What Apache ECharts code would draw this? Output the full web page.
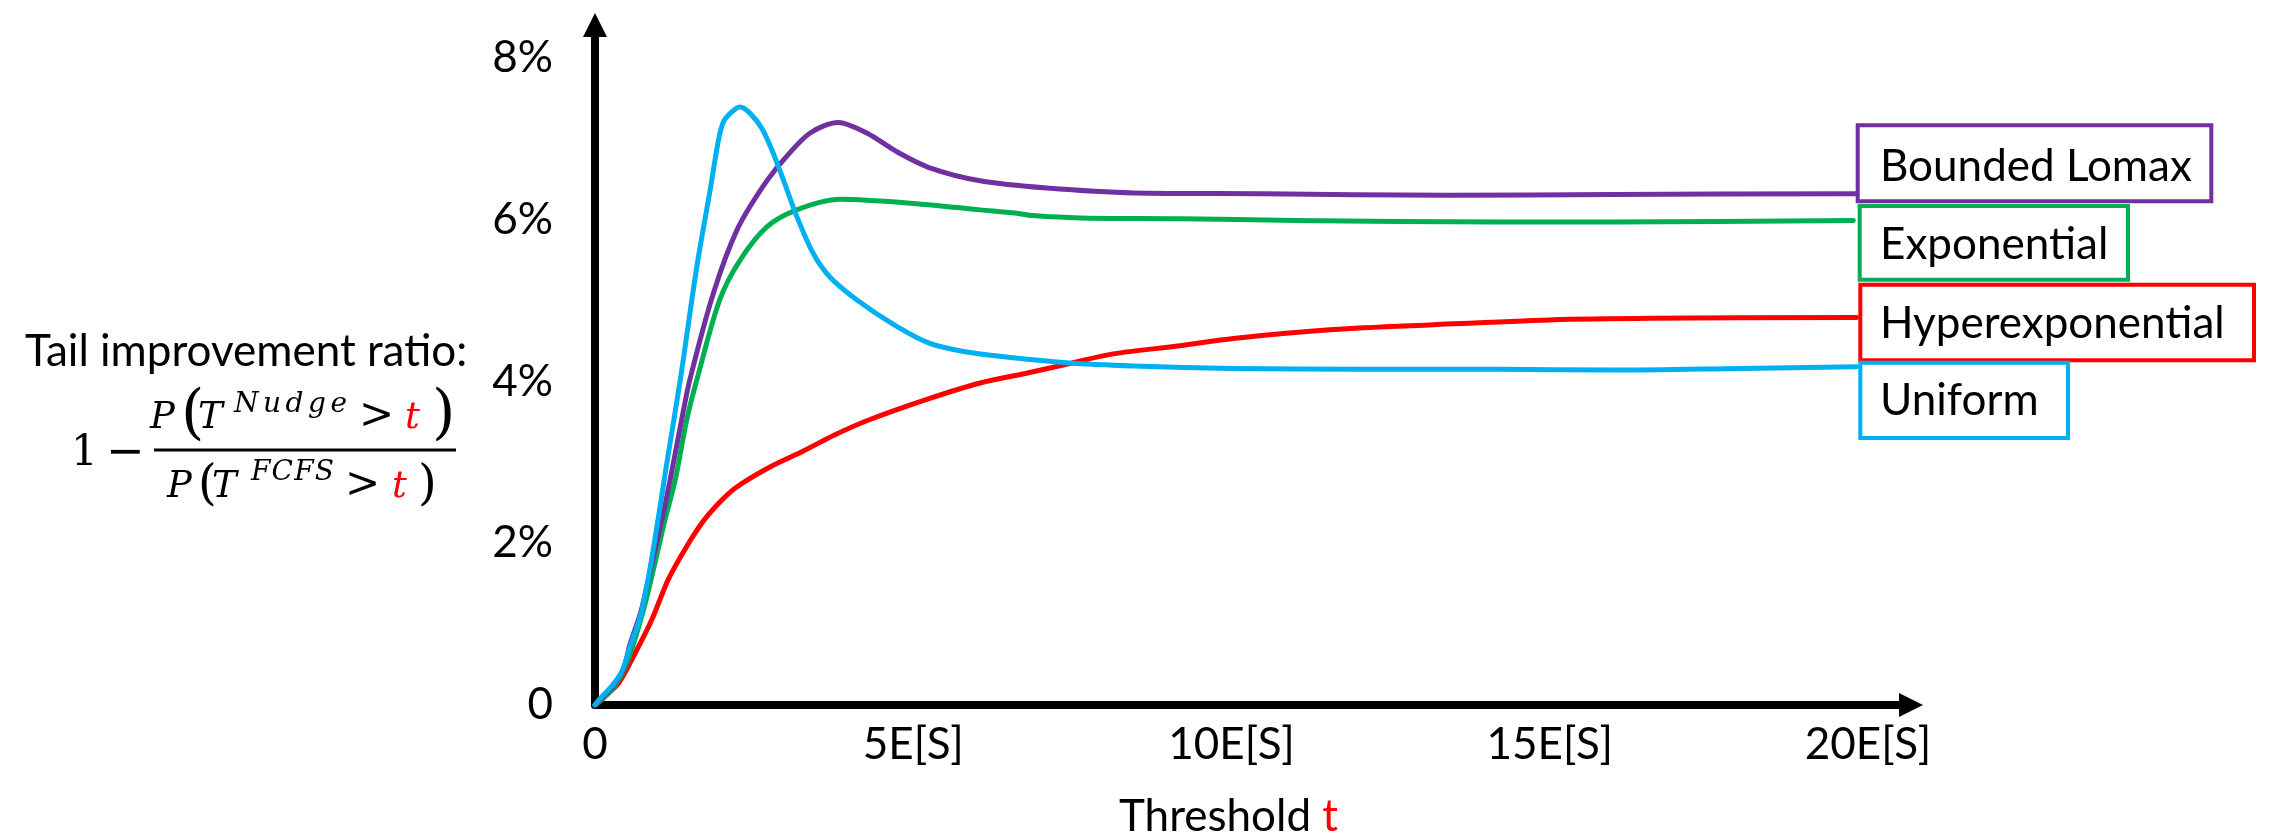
<!DOCTYPE html>
<html>
<head>
<meta charset="utf-8">
<script src="https://cdn.jsdelivr.net/npm/echarts@6/dist/echarts.min.js"></script>
<style>html,body{margin:0;padding:0;background:#fff}#c{width:2270px;height:839px}</style>
</head>
<body>
<div id="c"></div>
<script>
// ---------- data (x in multiples of E[S], y in %) ----------
const xTicks = [0, 5, 10, 15, 20];
const xTickLabels = ['0', '5E[S]', '10E[S]', '15E[S]', '20E[S]'];
const yTicks = [0, 2, 4, 6, 8];
const yTickLabels = ['0', '2%', '4%', '6%', '8%'];
const seriesNames = ['Bounded Lomax', 'Exponential', 'Hyperexponential', 'Uniform'];
const seriesColors = ['#7030A0', '#00B050', '#FF0000', '#00B0F0'];

const lomaxT = [0, 0.1, 0.3, 0.45, 0.55, 0.72, 0.88, 1.05, 1.18, 1.36, 1.49, 1.86, 2.23, 2.64, 3.01, 3.38, 3.82, 4.27, 4.74, 5.26, 6.05, 7.1, 8.46, 10.5, 13.4, 16, 19.82];
const lomaxY = [0, 0.08, 0.25, 0.45, 0.75, 1.15, 1.7, 2.29, 2.78, 3.52, 4.02, 5.09, 5.87, 6.41, 6.78, 7.07, 7.2, 7.07, 6.84, 6.64, 6.48, 6.39, 6.33, 6.32, 6.3, 6.31, 6.32];

const expT = [0, 0.1, 0.3, 0.52, 0.79, 1.1, 1.26, 1.44, 1.6, 1.96, 2.28, 2.7, 3.17, 3.85, 5.0, 6.05, 6.6, 6.88, 7.62, 9.19, 11, 14.2, 16, 19.77];
const expY = [0, 0.06, 0.22, 0.56, 1.26, 2.29, 2.78, 3.52, 4.02, 5.01, 5.5, 5.91, 6.12, 6.25, 6.2, 6.12, 6.08, 6.05, 6.02, 6.01, 5.99, 5.97, 5.97, 5.99];

const hyperT = [0, 0.08, 0.37, 0.63, 0.89, 1.15, 1.41, 1.68, 1.94, 2.2, 2.72, 3.25, 3.77, 4.29, 5.26, 6.05, 6.83, 7.46, 8.14, 9.19, 10.03, 11.6, 13.17, 15.0, 16.58, 19.82];
const hyperY = [0, 0.06, 0.27, 0.64, 1.05, 1.55, 1.92, 2.25, 2.49, 2.68, 2.93, 3.13, 3.34, 3.52, 3.79, 3.98, 4.11, 4.22, 4.34, 4.44, 4.53, 4.64, 4.7, 4.76, 4.78, 4.79];

const unifT = [0, 0.08, 0.26, 0.42, 0.55, 0.71, 0.86, 0.99, 1.12, 1.34, 1.6, 1.81, 1.94, 2.02, 2.15, 2.28, 2.44, 2.62, 2.78, 2.96, 3.17, 3.43, 3.69, 4.11, 4.74, 5.26, 5.79, 6.36, 7.41, 8.46, 10.03, 12, 14.2, 16, 18, 19.82];
const unifY = [0, 0.08, 0.23, 0.41, 0.72, 1.09, 1.67, 2.29, 2.95, 4.02, 5.42, 6.37, 6.98, 7.21, 7.33, 7.39, 7.31, 7.13, 6.86, 6.49, 6.04, 5.58, 5.29, 5.01, 4.68, 4.47, 4.37, 4.31, 4.23, 4.19, 4.16, 4.15, 4.15, 4.14, 4.16, 4.18];

// ---------- text helpers ----------
const mctx = document.createElement('canvas').getContext('2d');
function fontStr(style, size, family) { return style + ' ' + size + 'px "' + family + '"'; }
function midOffset(font) { mctx.font = font; mctx.textBaseline = 'middle'; return mctx.measureText('H').actualBoundingBoxDescent; }
function textWidth(str, font) { mctx.font = font; mctx.textBaseline = 'alphabetic'; return mctx.measureText(str).width; }
function txt(str, x, baseline, fstyle, size, family, color, align) {
  const f = fontStr(fstyle, size, family);
  return { type: 'text', silent: true, x: x, y: baseline - midOffset(f),
    style: { text: str, fontStyle: fstyle === 'italic' ? 'italic' : 'normal', fontSize: size, fontFamily: family,
      fill: color || '#000', align: align || 'left', verticalAlign: 'middle' } };
}
function spread(str, x0, x1, baseline, fstyle, size, family, color) {
  const f = fontStr(fstyle, size, family);
  const chars = str.split('');
  const ws = chars.map(c => textWidth(c, f));
  const total = ws.reduce((a, b) => a + b, 0);
  const extra = chars.length > 1 ? (x1 - x0 - total) / (chars.length - 1) : 0;
  let x = x0; const out = [];
  chars.forEach((c, i) => { out.push(txt(c, x, baseline, fstyle, size, family, color)); x += ws[i] + extra; });
  return out;
}

const UI = 'Lato';
const MATH = 'DejaVu Serif';
const graphics = [];

// y-axis title and formula
graphics.push(txt('Tail improvement ratio:', 25, 366, 'normal', 44, UI));
graphics.push(txt('1', 71, 465, 'normal', 42, MATH));
graphics.push(txt('\u2212', 106, 466, 'normal', 46, 'DejaVu Sans'));
graphics.push({ type: 'line', silent: true, shape: { x1: 154, y1: 450, x2: 456, y2: 450 }, style: { stroke: '#000', lineWidth: 3 } });
// numerator
graphics.push(txt('P', 150, 428, 'italic', 37, MATH));
graphics.push(txt('(', 181, 432, 'normal', 60, MATH));
graphics.push(txt('T', 198, 428, 'italic', 37, MATH));
graphics.push(...spread('Nudge', 234, 347, 412, 'italic', 28, MATH));
graphics.push(txt('>', 359, 428, 'normal', 42, MATH));
graphics.push(txt('t', 405, 428, 'italic', 37, MATH, '#FF0000'));
graphics.push(txt(')', 432, 432, 'normal', 60, MATH));
// denominator
graphics.push(txt('P', 167, 497, 'italic', 37, MATH));
graphics.push(txt('(', 198, 499, 'normal', 48, MATH));
graphics.push(txt('T', 212, 497, 'italic', 37, MATH));
graphics.push(...spread('FCFS', 251, 334, 480, 'italic', 28, MATH));
graphics.push(txt('>', 345, 497, 'normal', 42, MATH));
graphics.push(txt('t', 392, 497, 'italic', 37, MATH, '#FF0000'));
graphics.push(txt(')', 418, 499, 'normal', 48, MATH));

// x-axis title
(function () {
  const f = fontStr('normal', 44, UI);
  const w = textWidth('Threshold ', f);
  graphics.push(txt('Threshold ', 1119, 831, 'normal', 44, UI));
  graphics.push(txt('t', 1119 + w, 831, 'normal', 44, UI, '#FF0000'));
})();

// label boxes
const boxes = [
  { x: 1857.7, y: 125.3, w: 353.6, h: 76, base: 180.7 },
  { x: 1859.7, y: 206, w: 268.3, h: 73.7, base: 259.3 },
  { x: 1860.3, y: 284.7, w: 393.7, h: 75.6, base: 338.3 },
  { x: 1860.3, y: 362.7, w: 207.7, h: 75.3, base: 415 }
];
boxes.forEach((b, i) => {
  graphics.push({ type: 'rect', silent: true, shape: { x: b.x, y: b.y, width: b.w, height: b.h },
    style: { fill: 'none', stroke: seriesColors[i], lineWidth: 4 } });
  graphics.push(txt(seriesNames[i], 1880, b.base, 'normal', 44, UI));
});

const pairs = (xs, ys) => xs.map((x, i) => [x, ys[i]]);
const seriesData = [pairs(lomaxT, lomaxY), pairs(expT, expY), pairs(hyperT, hyperY), pairs(unifT, unifY)];
const drawOrder = [2, 1, 0, 3];

const chart = echarts.init(document.getElementById('c'), null, { renderer: 'canvas', width: 2270, height: 839 });
chart.setOption({
  animation: false,
  backgroundColor: '#fff',
  grid: { left: 595, top: 25, width: 1316, height: 680, containLabel: false, outerBoundsMode: 'none' },
  xAxis: {
    type: 'value', min: 0, max: 20.676, interval: 5,
    axisLine: { show: true, onZero: false, symbol: ['none', 'triangle'], symbolSize: [24, 24], lineStyle: { color: '#000', width: 8 } },
    axisTick: { show: false }, splitLine: { show: false },
    axisLabel: { showMaxLabel: false, margin: 18, color: '#000', fontFamily: UI, fontSize: 44,
      formatter: v => { const i = xTicks.indexOf(v); return i >= 0 ? xTickLabels[i] : ''; } }
  },
  yAxis: {
    type: 'value', min: 0, max: 8.405, interval: 2,
    axisLine: { show: true, onZero: false, symbol: ['none', 'triangle'], symbolSize: [24, 24], lineStyle: { color: '#000', width: 8 } },
    axisTick: { show: false }, splitLine: { show: false },
    axisLabel: { showMaxLabel: false, margin: 42, color: '#000', fontFamily: UI, fontSize: 44,
      formatter: v => { const i = yTicks.indexOf(v); return i >= 0 ? yTickLabels[i] : ''; } }
  },
  series: drawOrder.map(i => ({
    type: 'line', name: seriesNames[i], data: seriesData[i], smooth: 0.3, showSymbol: false, symbol: 'none',
    lineStyle: { color: seriesColors[i], width: 5, cap: 'round', join: 'round' }, itemStyle: { color: seriesColors[i] },
    silent: true
  })),
  graphic: graphics
});
</script>
</body>
</html>
